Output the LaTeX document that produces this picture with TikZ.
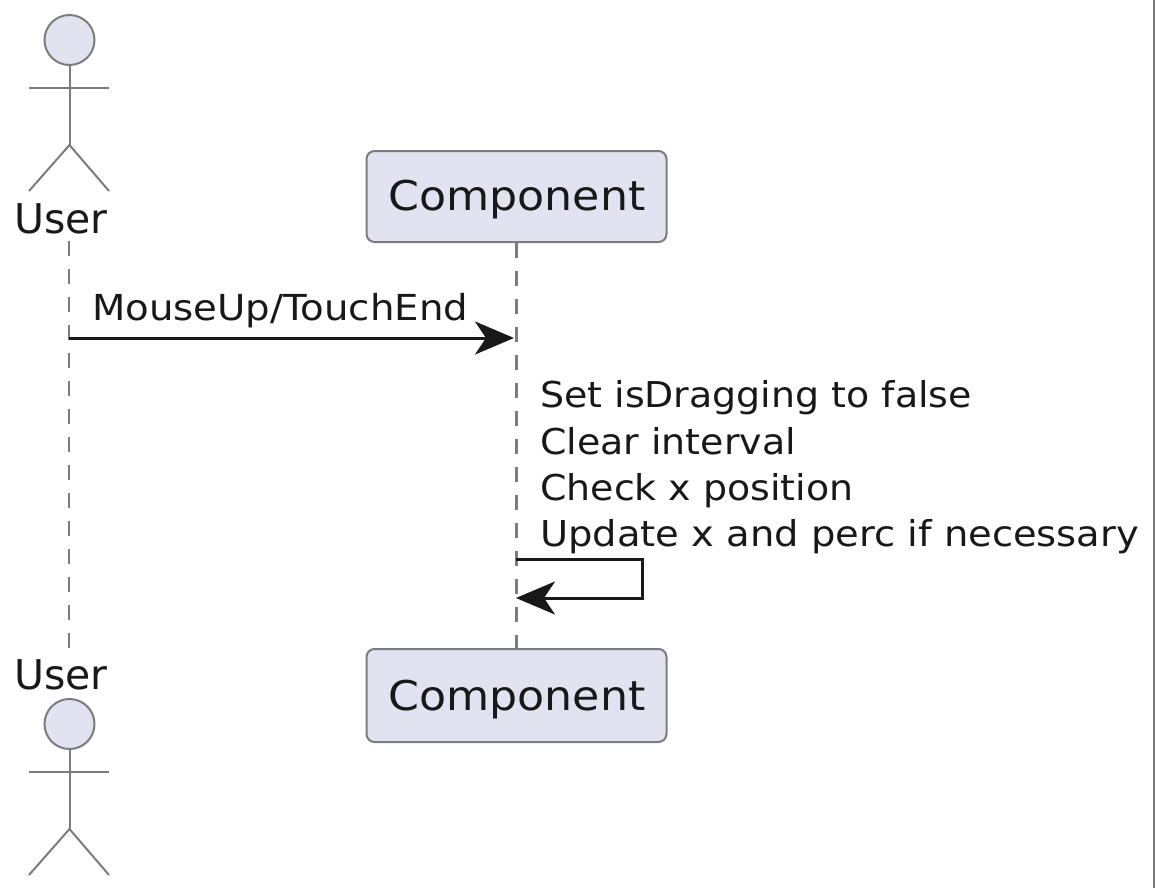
\documentclass[tikz,border=0pt]{standalone}
\usepackage{fontspec}
\setmainfont{DejaVu Sans}
\newfontfamily\widefont[FakeStretch=1.08]{DejaVu Sans}
\newfontfamily\midfont[FakeStretch=1.065]{DejaVu Sans}
\usetikzlibrary{arrows.meta}
\definecolor{partfill}{HTML}{E2E2F0}
\definecolor{partline}{HTML}{7C7C7C}
\definecolor{ink}{HTML}{181818}
\tikzset{
  x=1pt,y=-1pt,
  actorline/.style={draw=partline,line width=2pt},
  actorhead/.style={circle,draw=partline,fill=partfill,line width=2pt,minimum size=50pt,inner sep=0pt},
  partbox/.style={draw=partline,fill=partfill,line width=2pt,rounded corners=8pt,minimum width=300pt,inner sep=0pt,text=ink},
  partlabel/.style={font=\widefont\fontsize{41}{41}\selectfont,text=ink,inner sep=0pt,anchor=base},
  actorlabel/.style={font=\fontsize{41}{41}\selectfont,text=ink,inner sep=0pt,anchor=base},
  msglabel/.style={font=\widefont\fontsize{35.6}{35.6}\selectfont,text=ink,inner sep=0pt,anchor=base west},
  noteline/.style={font=\midfont\fontsize{35.6}{35.6}\selectfont,text=ink,inner sep=0pt,anchor=base west},
  lifeline/.style={draw=partline,line width=2.2pt,dash pattern=on 15pt off 13pt},
  msg/.style={draw=ink,line width=3pt,-{Stealth[length=39pt,width=33pt,inset=11pt,fill=ink]}},
}
\begin{document}
\begin{tikzpicture}
\useasboundingbox (0,0) rectangle (1155,888);
% lifelines
\coordinate (ut) at (69,241);
\coordinate (ub) at (69,650);
\draw[lifeline] (ut) -- (ub);
\node[partbox,minimum height=91pt] (ct) at (516.5,196.5) {};
\node[partlabel] (ctl) at (517,210) {Component};
\node[partbox,minimum height=93pt] (cb) at (516.5,695.5) {};
\node[partlabel] (cbl) at (517,710) {Component};
\draw[lifeline] (ct.south) -- (cb.north);
% top actor
\node[actorhead] (h1) at (69.5,40) {};
\coordinate (a1l) at (29,88); \coordinate (a1r) at (109,88);
\coordinate (hip1) at (69.5,145); \coordinate (l1l) at (29,191); \coordinate (l1r) at (109,191);
\draw[actorline] (h1.south) -- (hip1);
\draw[actorline] (a1l) -- (a1r);
\draw[actorline] (l1l) -- (hip1) -- (l1r);
\node[actorlabel] (u1) at (61,233) {User};
% bottom actor
\node[actorlabel] (u2) at (61,689) {User};
\node[actorhead] (h2) at (69.5,724) {};
\coordinate (a2l) at (29,772); \coordinate (a2r) at (109,772);
\coordinate (hip2) at (69.5,829); \coordinate (l2l) at (29,875); \coordinate (l2r) at (109,875);
\draw[actorline] (h2.south) -- (hip2);
\draw[actorline] (a2l) -- (a2r);
\draw[actorline] (l2l) -- (hip2) -- (l2r);
% messages
\coordinate (m1a) at (69,338); \coordinate (m1b) at (514,338);
\draw[msg] (m1a) -- (m1b);
\node[msglabel,font=\widefont\fontsize{35.8}{35.8}\selectfont] (m1) at (92,320) {MouseUp/TouchEnd};
\coordinate (s1) at (516,559); \coordinate (s2) at (642,559); \coordinate (s3) at (642,598); \coordinate (s4) at (516,598);
\draw[msg] (s1) -- (s2) -- (s3) -- (s4);
\node[noteline] (t1) at (540,407) {Set isDragging to false};
\node[noteline] (t2) at (540,454) {Clear interval};
\node[noteline] (t3) at (540,500) {Check x position};
\node[msglabel] (t4) at (540,546) {Update x and perc if necessary};
% right edge
\coordinate (e1) at (1153.5,0); \coordinate (e2) at (1153.5,888);
\draw[draw=partline,line width=2pt] (e1) -- (e2);
\end{tikzpicture}
\end{document}
